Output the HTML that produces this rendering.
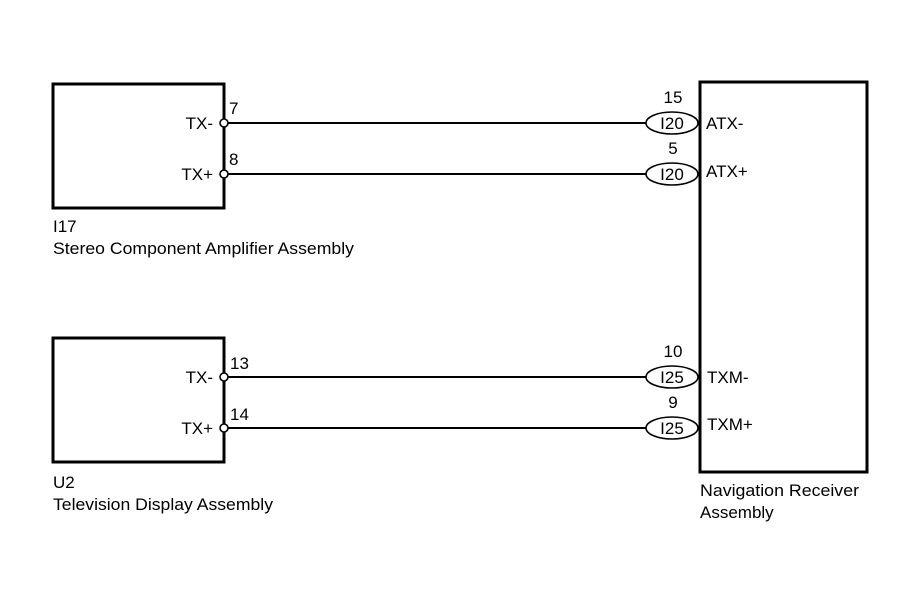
<!DOCTYPE html>
<html><head><meta charset="utf-8"><style>
html,body{margin:0;padding:0;background:#fff;}
svg{display:block;}
text{font-family:"Liberation Sans",Arial,sans-serif;font-size:17px;fill:#000;}
</style></head><body>
<svg width="907" height="610" viewBox="0 0 907 610">
<g fill="none" stroke="#000" stroke-width="3">
<rect x="53" y="84" width="171" height="124"/>
<rect x="53" y="338" width="171" height="124"/>
<rect x="700" y="82" width="167" height="390"/>
</g>
<g stroke="#000" stroke-width="2">
<line x1="228" y1="123" x2="646" y2="123"/>
<line x1="228" y1="174" x2="646" y2="174"/>
<line x1="228" y1="377" x2="646" y2="377"/>
<line x1="228" y1="428" x2="646" y2="428"/>
</g>
<g fill="#fff" stroke="#000" stroke-width="1.6">
<circle cx="224" cy="123" r="4"/>
<circle cx="224" cy="174" r="4"/>
<circle cx="224" cy="377" r="4"/>
<circle cx="224" cy="428" r="4"/>
<ellipse cx="672" cy="123" rx="26" ry="11"/>
<ellipse cx="672" cy="174" rx="26" ry="11"/>
<ellipse cx="672" cy="377" rx="26" ry="11"/>
<ellipse cx="672" cy="428" rx="26" ry="11"/>
</g>
<text x="213" y="129" text-anchor="end">TX-</text>
<text x="213" y="180" text-anchor="end">TX+</text>
<text x="229" y="114">7</text>
<text x="229" y="165">8</text>
<text x="213" y="383" text-anchor="end">TX-</text>
<text x="213" y="434" text-anchor="end">TX+</text>
<text x="230" y="369">13</text>
<text x="230" y="420">14</text>
<text x="53" y="232">I17</text>
<text x="53" y="254" textLength="301" lengthAdjust="spacingAndGlyphs">Stereo Component Amplifier Assembly</text>
<text x="53" y="488">U2</text>
<text x="53" y="510" textLength="220" lengthAdjust="spacingAndGlyphs">Television Display Assembly</text>
<text x="673" y="103" text-anchor="middle">15</text>
<text x="673" y="154" text-anchor="middle">5</text>
<text x="673" y="357" text-anchor="middle">10</text>
<text x="673" y="408" text-anchor="middle">9</text>
<text x="672" y="129" text-anchor="middle">I20</text>
<text x="672" y="180" text-anchor="middle">I20</text>
<text x="672" y="383" text-anchor="middle">I25</text>
<text x="672" y="434" text-anchor="middle">I25</text>
<text x="706" y="129">ATX-</text>
<text x="706" y="177">ATX+</text>
<text x="707" y="383">TXM-</text>
<text x="707" y="430">TXM+</text>
<text x="700" y="496" textLength="159" lengthAdjust="spacingAndGlyphs">Navigation Receiver</text>
<text x="700" y="518">Assembly</text>
</svg>
</body></html>
